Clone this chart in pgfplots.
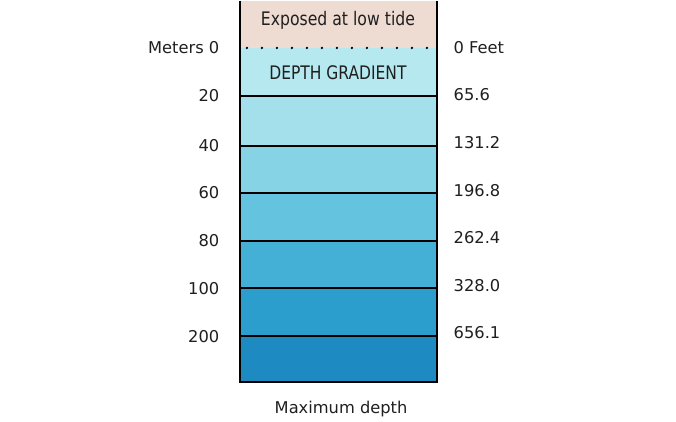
\documentclass[border=0pt]{standalone}
\usepackage{fontspec}
\setmainfont{DejaVu Sans}
\usepackage{pgfplots}
\pgfplotsset{compat=1.18}
\definecolor{pinkband}{HTML}{EEDCD3}
\definecolor{b1}{HTML}{B6E9EF}
\definecolor{b2}{HTML}{A3E0EC}
\definecolor{b3}{HTML}{86D3E6}
\definecolor{b4}{HTML}{64C3DE}
\definecolor{b5}{HTML}{45B0D6}
\definecolor{b6}{HTML}{2B9ECE}
\definecolor{b7}{HTML}{1D8BC2}
\tikzset{lab/.style={font=\fontsize{12.2}{14}\selectfont, text=black!88}}
\begin{document}
\begin{tikzpicture}
\begin{axis}[
  width=507pt, height=315.75pt, scale only axis,
  xmin=-1.2183, xmax=2.2132, ymin=-0.9792, ymax=7.7917,
  y dir=reverse, axis lines=none, clip=false
]
\path (rel axis cs:0,0) rectangle (rel axis cs:1,1);
% bands
\addplot[fill=pinkband, draw=none] coordinates {(0,-0.9792) (1,-0.9792) (1,0) (0,0)} -- cycle;
\addplot[fill=b1, draw=none] coordinates {(0,0) (1,0) (1,1) (0,1)} -- cycle;
\addplot[fill=b2, draw=none] coordinates {(0,1) (1,1) (1,2.04) (0,2.04)} -- cycle;
\addplot[fill=b3, draw=none] coordinates {(0,2.04) (1,2.04) (1,3.02) (0,3.02)} -- cycle;
\addplot[fill=b4, draw=none] coordinates {(0,3.02) (1,3.02) (1,4.02) (0,4.02)} -- cycle;
\addplot[fill=b5, draw=none] coordinates {(0,4.02) (1,4.02) (1,5) (0,5)} -- cycle;
\addplot[fill=b6, draw=none] coordinates {(0,5) (1,5) (1,6) (0,6)} -- cycle;
\addplot[fill=b7, draw=none] coordinates {(0,6) (1,6) (1,6.96) (0,6.96)} -- cycle;
% boundaries
\addplot[black, line width=1.4pt] coordinates {(0,1) (1,1)};
\addplot[black, line width=1.4pt] coordinates {(0,2.04) (1,2.04)};
\addplot[black, line width=1.4pt] coordinates {(0,3.02) (1,3.02)};
\addplot[black, line width=1.4pt] coordinates {(0,4.02) (1,4.02)};
\addplot[black, line width=1.4pt] coordinates {(0,5) (1,5)};
\addplot[black, line width=1.4pt] coordinates {(0,6) (1,6)};
\addplot[black, line width=1.4pt] coordinates {(0,-0.9792) (0,6.96) (1,6.96) (1,-0.9792)};
% dotted low-tide line
\addplot[black, line width=2pt, line cap=round, dash pattern=on 0pt off 11.25pt] coordinates {(0.035,0) (0.96,0)};
% texts
\node[lab, xscale=0.84, font=\fontsize{14}{16}\selectfont] at (axis cs:0.497,-0.58) {Exposed at low tide};
\node[lab, xscale=0.83, font=\fontsize{14}{16}\selectfont] at (axis cs:0.497,0.52) {DEPTH GRADIENT};
\node[lab, anchor=east] at (axis cs:-0.0812,0) {Meters 0};
\node[lab, anchor=east] at (axis cs:-0.0812,1) {20};
\node[lab, anchor=east] at (axis cs:-0.0812,2.04) {40};
\node[lab, anchor=east] at (axis cs:-0.0812,3.02) {60};
\node[lab, anchor=east] at (axis cs:-0.0812,4.02) {80};
\node[lab, anchor=east] at (axis cs:-0.0812,5.02) {100};
\node[lab, anchor=east] at (axis cs:-0.0812,6.02) {200};
\node[lab, anchor=west] at (axis cs:1.061,0) {0 Feet};
\node[lab, anchor=west] at (axis cs:1.061,0.98) {65.6};
\node[lab, anchor=west] at (axis cs:1.061,1.98) {131.2};
\node[lab, anchor=west] at (axis cs:1.061,2.98) {196.8};
\node[lab, anchor=west] at (axis cs:1.061,3.96) {262.4};
\node[lab, anchor=west] at (axis cs:1.061,4.96) {328.0};
\node[lab, anchor=west] at (axis cs:1.061,5.94) {656.1};
\node[lab] at (axis cs:0.513,7.52) {Maximum depth};
\end{axis}
\end{tikzpicture}
\end{document}
